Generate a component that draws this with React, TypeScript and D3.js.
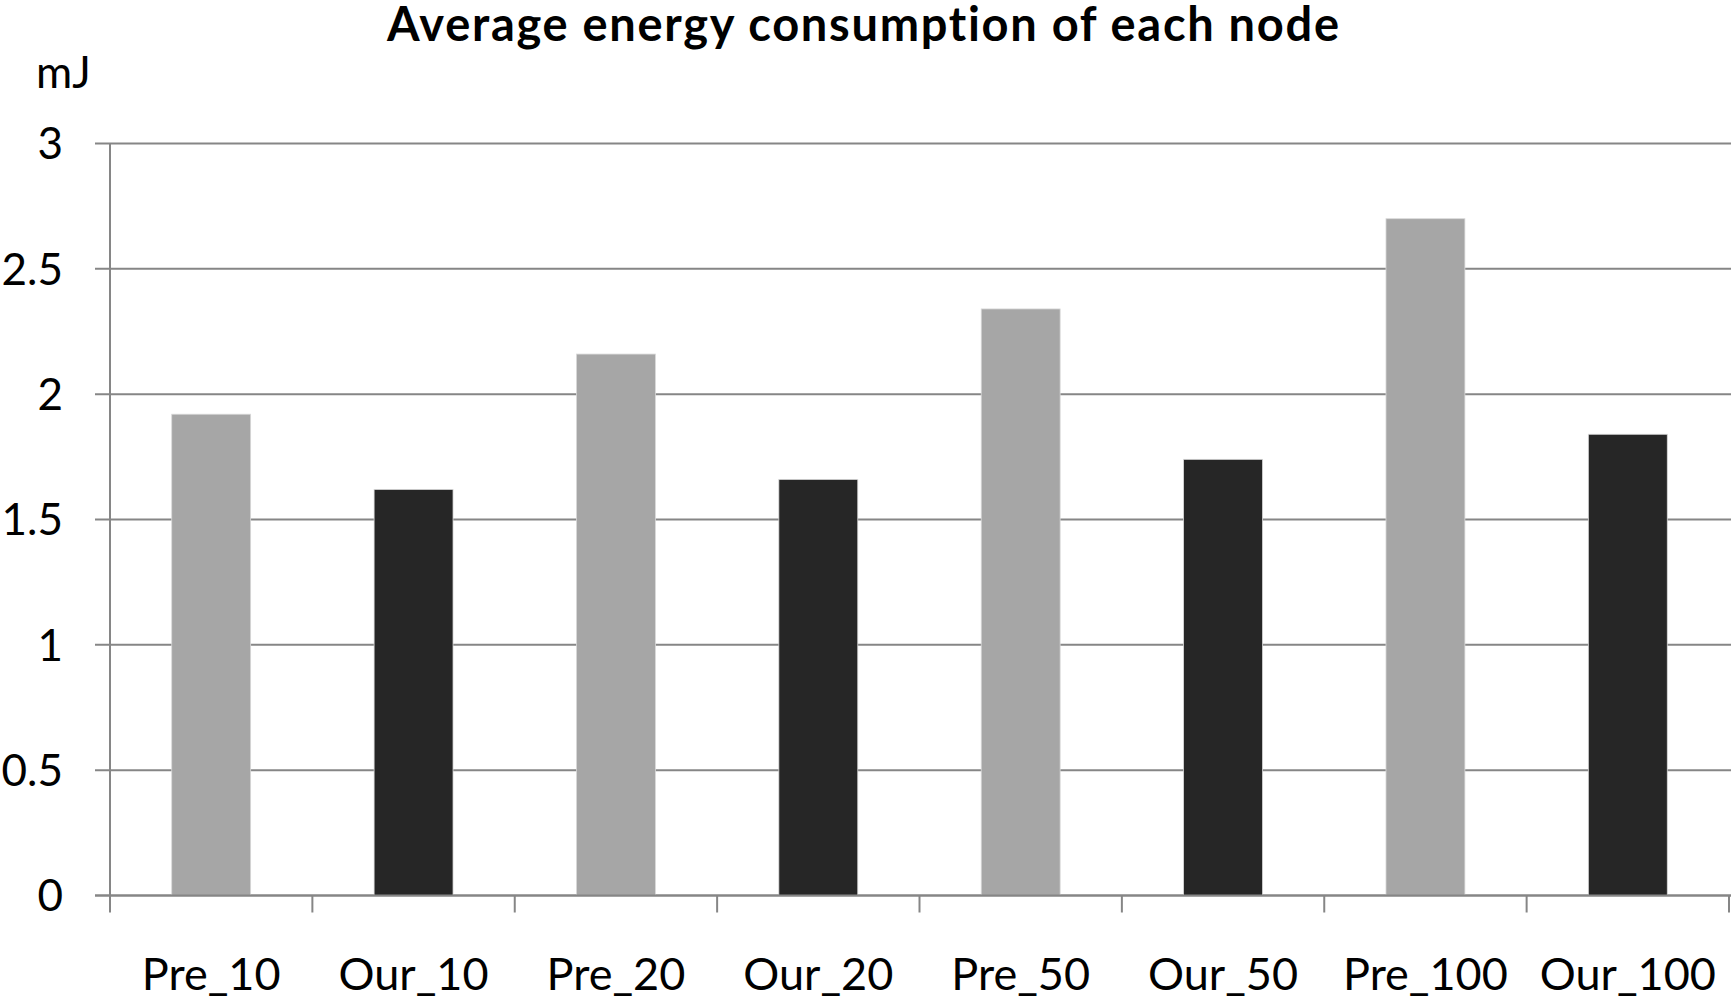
import { useEffect } from 'react';
import * as d3 from 'd3';

const categories = ['Pre_10', 'Our_10', 'Pre_20', 'Our_20', 'Pre_50', 'Our_50', 'Pre_100', 'Our_100'];
const values = [1.92, 1.62, 2.16, 1.66, 2.34, 1.74, 2.7, 1.84];
const seriesOf = ['pre', 'our', 'pre', 'our', 'pre', 'our', 'pre', 'our'];
const yTicks = [0, 0.5, 1, 1.5, 2, 2.5, 3];
const yTickLabels = ['0', '0.5', '1', '1.5', '2', '2.5', '3'];

const W = 1731;
const H = 1000;
const FONT = 'Lato, "Open Sans", sans-serif';

export default function App() {
  useEffect(() => {
    document.body.style.margin = '0';
    document.body.style.overflow = 'hidden';
  }, []);

  const x = d3.scaleBand<string>().domain(categories).range([110, 1729]).padding(0);
  const y = d3.scaleLinear().domain([0, 3]).range([895.5, 143.5]);
  const color = d3.scaleOrdinal<string, string>().domain(['pre', 'our']).range(['#a6a6a6', '#262626']);

  const step = x.step();
  const barW = step * 0.39;
  const boundaries = categories.map(c => x(c) as number).concat([x.range()[1]]);

  return (
    <svg width={W} height={H} style={{ display: 'block', background: '#fff' }}>
      {/* gridlines */}
      {yTicks.map((t, i) => (
        <line key={'g' + i} x1={95} x2={W} y1={y(t)} y2={y(t)}
          stroke="#868686" strokeWidth={2} />
      ))}
      {/* y axis */}
      <line x1={110} x2={110} y1={y(3)} y2={y(0)} stroke="#868686" strokeWidth={2} />
      {/* bars */}
      {categories.map((c, i) => {
        const cx = (x(c) as number) + step / 2;
        return (
          <rect key={c} x={cx - barW / 2} y={y(values[i])} width={barW}
            height={y(0) - y(values[i])} fill={color(seriesOf[i])}
            stroke="#d9d9d9" strokeWidth={0.8} />
        );
      })}
      {/* x axis baseline + ticks */}
      <line x1={95} x2={W} y1={y(0)} y2={y(0)} stroke="#868686" strokeWidth={2} />
      {boundaries.map((bx, i) => (
        <line key={'t' + i} x1={bx} x2={bx} y1={y(0)} y2={y(0) + 17}
          stroke="#868686" strokeWidth={2} />
      ))}
      {/* y tick labels */}
      {yTicks.map((t, i) => (
        <text key={'yl' + i} x={63} y={y(t)} dy="0.36em" textAnchor="end"
          fontFamily={FONT} fontSize={44} fill="#000">{yTickLabels[i]}</text>
      ))}
      {/* x labels */}
      {categories.map(c => (
        <text key={'xl' + c} x={(x(c) as number) + step / 2} y={990} textAnchor="middle"
          fontFamily={FONT} fontSize={45} fill="#000">{c}</text>
      ))}
      {/* unit */}
      <text x={36} y={88} fontFamily={FONT} fontSize={44} fill="#000">mJ</text>
      {/* title */}
      <text x={863} y={41} textAnchor="middle" fontFamily={FONT} fontWeight="bold"
        fontSize={47} fill="#000" textLength={952} lengthAdjust="spacing"
        style={{ fontVariantLigatures: 'none' }}>Average energy consumption of each node</text>
    </svg>
  );
}
